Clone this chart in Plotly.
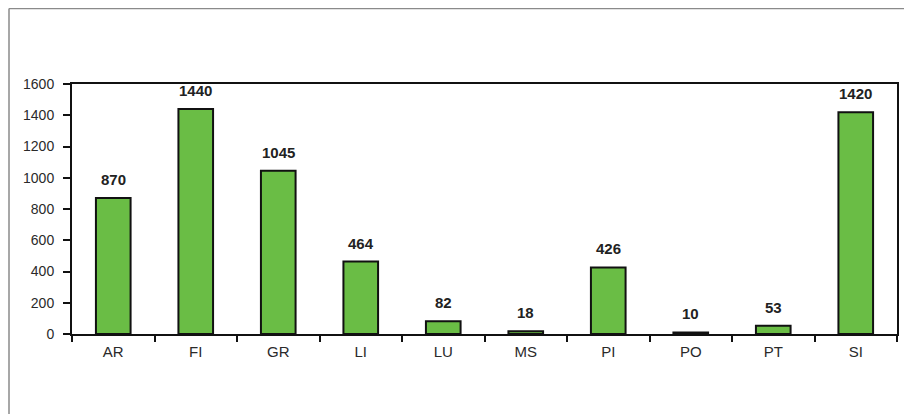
import plotly.graph_objects as go

categories = ["AR", "FI", "GR", "LI", "LU", "MS", "PI", "PO", "PT", "SI"]
values = [870, 1440, 1045, 464, 82, 18, 426, 10, 53, 1420]
y_ticks = [0, 200, 400, 600, 800, 1000, 1200, 1400, 1600]

FONT = "Liberation Sans, Arial, sans-serif"
ML, MT, PW, PH = 64, 76, 825, 250
W, H = 912, 414

fig = go.Figure()
fig.add_trace(go.Bar(
    x=categories, y=values, width=0.42,
    marker=dict(color="#6abd45", line=dict(color="#111111", width=2)),
    hoverinfo="x+y",
))

for c, v in zip(categories, values):
    fig.add_annotation(x=c, y=v, text=f"<b>{v}</b>", showarrow=False,
                       yanchor="bottom", yshift=8,
                       font=dict(family=FONT, size=15, color="#222222"))

# outer frame lines (gray)
fx = (1 - ML) / PW
fy = (PH + MT - 0.5) / PH
fig.add_shape(type="line", xref="paper", yref="paper", x0=fx, x1=1.1, y0=fy, y1=fy,
              line=dict(color="#8a8a8a", width=1.5))
fig.add_shape(type="line", xref="paper", yref="paper", x0=fx, x1=fx, y0=fy, y1=-0.5,
              line=dict(color="#8a8a8a", width=1.5))

fig.update_layout(
    width=W, height=H,
    margin=dict(l=ML, r=W - ML - PW, t=MT, b=H - MT - PH, autoexpand=False),
    paper_bgcolor="white", plot_bgcolor="white",
    showlegend=False,
    font=dict(family=FONT, size=14, color="#2a2a2a"),
    bargap=0.5,
)
fig.update_xaxes(
    showline=True, linecolor="#111111", linewidth=2, mirror=True,
    ticks="outside", tickson="boundaries", ticklen=6, tickwidth=2, tickcolor="#111111",
    showgrid=False, tickfont=dict(family=FONT, size=15, color="#2a2a2a"), ticklabelstandoff=3,
)
fig.update_yaxes(
    range=[0, 1600], tickvals=y_ticks,
    showline=True, linecolor="#111111", linewidth=2, mirror=True,
    ticks="outside", ticklen=7, tickwidth=2, tickcolor="#111111",
    showgrid=False, zeroline=False, tickfont=dict(family=FONT, size=14, color="#2a2a2a"),
    ticklabelstandoff=6,
)

fig.write_html("out.html")
